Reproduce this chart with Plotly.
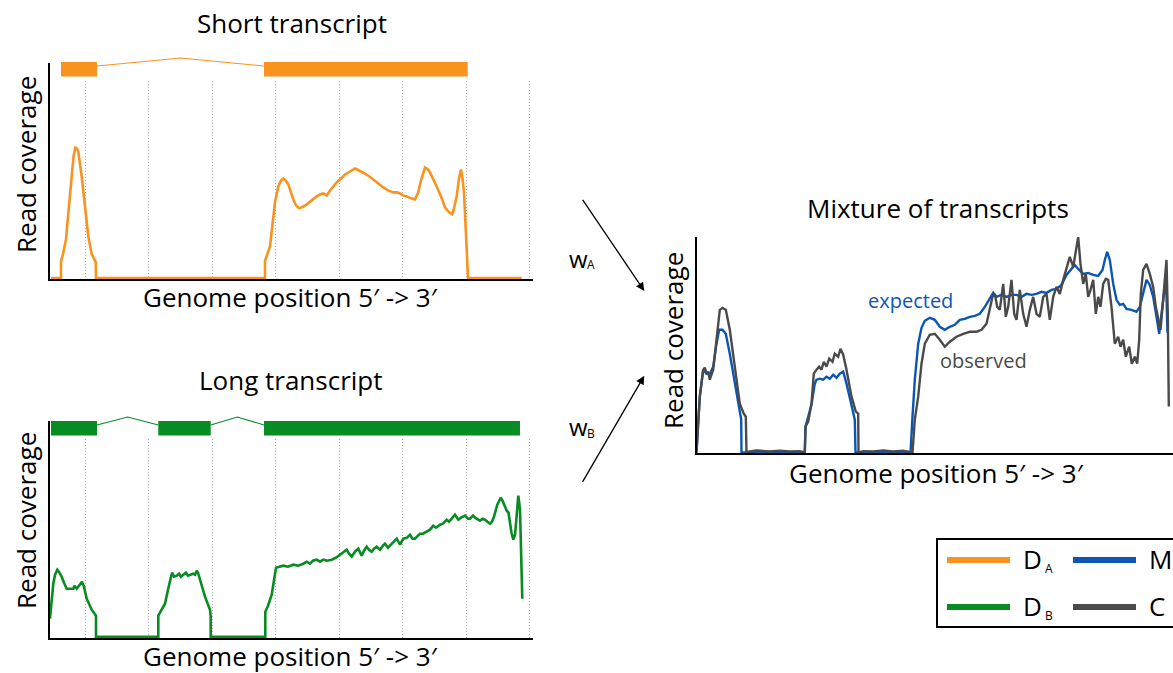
import plotly.graph_objects as go

W, H = 1173, 673
FONT = "Open Sans"

ORANGE = "#F7931E"
GREEN = "#078C21"
BLUE = "#0B56B5"
GREY = "#4A4A4A"

# ---------------- Short transcript (A) ----------------
short_exons = [(11, 47), (214, 417.7)]
short_pos = [1, 11, 11, 13, 16, 19, 21.7, 23.5, 25.3, 27, 28.3, 31.7, 35, 38.3, 41.7, 45.7, 46,
             215, 215, 220, 225, 228.3, 231, 233.3, 235.5, 238.3, 243.3, 246, 249.3, 252, 256.7,
             260, 263, 266.7, 270, 273.3, 276.7, 280, 283, 286.7, 290, 295, 300, 305, 309, 313.3,
             318, 323.3, 328, 333.3, 338, 343.3, 347, 350, 353, 356.7, 361, 365, 368.3, 371, 375,
             378, 380, 383, 386.7, 391, 395, 399, 402.3, 404, 406.7, 409, 411, 412.5, 414, 416.7,
             418, 471.7]
short_cov = [0, 0, 17, 24, 39, 70, 102, 122, 131, 130, 127, 102, 72, 42, 24, 16, 0,
             0, 17, 32, 76, 92, 98, 100, 98, 94, 79, 73, 70, 71, 74,
             77, 79, 82, 84, 85, 83, 88, 92, 96, 99, 104, 107, 110, 108, 106,
             103, 99, 95, 91, 88, 86, 86, 85, 83, 82, 80, 79, 86, 98, 111,
             109, 106, 100, 92, 82, 71, 66, 64, 70, 82, 100, 109, 100, 86, 29,
             0, 0]

# ---------------- Long transcript (B) ----------------
long_exons = [(1, 47), (108.3, 160.7), (214, 470)]
long_pos = [0, 3.3, 5, 7.3, 9.5, 11.7, 14, 16.7, 20, 23.3, 24.5, 26.7, 29, 30.7, 32, 34, 36.7,
            41.7, 46, 46,
            108.3, 108.3, 112, 115, 118, 120.7, 122, 124, 126.7, 129, 131, 133.3, 136, 138, 140,
            143, 145, 146.7, 148, 150, 155, 160, 160.7, 160.7,
            215.3, 215.3, 218, 221.7, 224, 226, 233.3, 238, 243.3, 248, 253.3, 256.7, 260, 263,
            266.7, 270, 273.3, 277, 281.7, 286, 290, 293, 296.7, 299, 301.7, 305, 308.3, 311.7,
            314, 316.7, 319, 321.7, 324, 326.7, 330, 333, 335, 338, 340, 343, 346.7, 350, 353.3,
            357, 360, 362.5, 365, 368, 370, 373, 376.7, 380, 383.3, 386, 390, 393, 396.7, 399,
            401.7, 405, 408.3, 411, 415, 418, 420, 423, 425, 428, 430, 432.5, 435, 437.5, 440,
            442, 444, 447.3, 450.7, 452.5, 454, 456.7, 458.5, 460, 461.5, 463.3, 465, 466, 468.3,
            470, 472.3]
long_cov = [18, 53, 62, 67, 64, 60, 54, 48, 48, 48, 51, 48, 51, 53, 55, 50, 38,
            27, 21, 0,
            0, 21, 27, 33, 47, 60, 64, 60, 61, 63, 60, 62, 64, 61, 62,
            63, 62, 66, 64, 57, 40, 27, 20, 0,
            0, 25, 31, 42, 55, 69, 71, 70, 72, 71, 73, 75, 73, 76,
            77, 75, 77, 76, 77, 79, 82, 84, 87, 83, 80, 85, 88, 81,
            86, 90, 87, 85, 88, 90, 87, 91, 93, 89, 91, 95, 98, 92, 98,
            99, 102, 98, 98, 101, 103, 103, 105, 107, 111, 109, 112, 113, 117, 115,
            118, 122, 117, 119, 121, 118, 118, 121, 119, 117, 116, 118, 117, 115, 113,
            115, 120, 132, 139, 136, 132, 126, 124, 112, 104, 97, 102, 113, 141,
            127, 38]

# ---------------- Mixture: expected (M) and observed (C) ----------------
exp_pos = [0, 3.3, 6.7, 10, 13.3, 16.7, 20, 22.7, 26, 29.3, 33.3, 38.3, 42.7, 44.7, 45,
           108.3, 109, 115, 118.3, 120, 123.3, 126.7, 130, 133.3, 136.7, 140, 143.3, 146.7,
           150, 155, 158.3, 159,
           214, 216, 218.3, 221.7, 225, 228.3, 233.3, 238.3, 243.3, 248.3, 253.3, 258.3, 263.3,
           268.3, 273.3, 278.3, 283.3, 288.3, 293.3, 296.7, 300, 305, 310, 315, 320, 325, 330,
           335, 340, 345, 350, 355, 360, 365, 370, 375, 378.3, 381.7, 386.7, 391.7, 396.7,
           401.7, 406, 408.3, 410.7, 413.3, 416.7, 420, 423.3, 426.7, 430, 435, 440, 443.3,
           446.7, 450, 453.3, 456.7, 460, 462.7, 465, 467.3, 469.5, 471]
exp_cov = [0, 56, 83, 79, 79, 86, 109, 123, 123, 119, 99, 69, 43, 33, 0,
           0, 26, 48, 69, 73, 74, 73, 76, 74, 78, 75, 79, 81,
           69, 49, 33, 0,
           0, 36, 73, 109, 125, 132, 135, 133, 126, 123, 126, 128, 133,
           134, 136, 137, 139, 146, 154, 160, 156, 158, 156, 158, 158, 156, 159,
           158, 159, 161, 160, 163, 164, 168, 178, 184, 188, 184, 179, 180, 178,
           177, 183, 193, 201, 193, 169, 153, 148, 149, 144, 143, 141, 146,
           159, 173, 168, 156, 136, 119, 139, 156, 175, 120]

obs_pos = [0, 3.3, 6.7, 8.3, 10, 11.7, 13.3, 15, 16.7, 20, 23.3, 26, 29.3, 33.3, 38.3, 43.3,
           47.3, 49.3, 50, 53.3, 60, 66.7, 73.3, 83.3, 93.3, 103.3, 108.3,
           109, 111.7, 115, 117.3, 120, 122.7, 125, 127.3, 130, 132.7, 136, 138.3, 141.7, 144,
           146.7, 150, 155, 159.3, 161.7, 162, 166.7, 176.7, 186.7, 196.7, 206.7, 215.3,
           216, 218.3, 221.7, 225, 228.3, 233.3, 238.3, 243.3, 248.3, 253.3, 260, 266.7, 273.3,
           280, 285, 290, 293.3, 296, 298.3, 300.7, 303.3, 306.7, 309.3, 311.7, 315, 317.7,
           320, 323.3, 326.7, 330, 333.3, 336.7, 340, 343.3, 346.7, 350, 353.3, 356.7, 360,
           363.3, 366.7, 370, 373.3, 376.7, 379.3, 381.7, 384, 386.7, 389.3, 391.7, 394,
           396.7, 399.3, 401.7, 404, 406.7, 409.3, 411.7, 415, 418.3, 421.7, 424, 426.7, 429.3,
           432.7, 435.3, 438.3, 440.7, 442.7, 444.3, 446.7, 450, 453.3, 456.7, 459.3, 462, 464,
           466, 468, 470, 471.3, 472.3]
obs_cov = [0, 56, 83, 85, 79, 81, 73, 79, 83, 113, 143, 145, 143, 123, 83, 49,
           39, 36, 0, 1, 2, 1.4, 1, 1.7, 1, 1.4, 0,
           26, 31, 49, 79, 83, 86, 83, 91, 86, 94, 91, 99, 96, 104,
           98, 83, 56, 41, 39, 0, 1.4, 1, 2, 1, 1.7, 0,
           0, 33, 56, 89, 109, 118, 119, 113, 106, 111, 116, 119, 121,
           121, 123, 129, 143, 156, 159, 146, 143, 169, 136, 146, 173, 139,
           133, 163, 139, 126, 143, 156, 139, 136, 156, 159, 133, 156, 166,
           159, 173, 186, 196, 186, 203, 216, 189, 169, 179, 156, 163,
           173, 139, 156, 146, 169, 174, 173, 146, 109, 116, 106, 113, 96,
           106, 89, 96, 89, 113, 159, 183, 189, 179, 166, 146, 133, 123,
           146, 173, 193, 139, 46]


def px(x):
    return x / W


def py(y):
    return 1 - y / H


fig = go.Figure()

# coverage curves
fig.add_trace(go.Scatter(x=short_pos, y=short_cov, mode="lines", name="D<sub>A</sub>",
                         line=dict(color=ORANGE, width=2.6), xaxis="x", yaxis="y"))
fig.add_trace(go.Scatter(x=long_pos, y=long_cov, mode="lines", name="D<sub>B</sub>",
                         line=dict(color=GREEN, width=2.6), xaxis="x3", yaxis="y3"))
fig.add_trace(go.Scatter(x=exp_pos, y=exp_cov, mode="lines", name="M",
                         line=dict(color=BLUE, width=2.4), xaxis="x5", yaxis="y5"))
fig.add_trace(go.Scatter(x=obs_pos, y=obs_cov, mode="lines", name="C",
                         line=dict(color=GREY, width=2.4), xaxis="x5", yaxis="y5"))

shapes = []


def gene_model(exons, color, xa, ya):
    # exon boxes joined by angled intron connectors
    for x0, x1 in exons:
        shapes.append(dict(type="rect", xref=xa, yref=ya, x0=x0, x1=x1, y0=-1, y1=1,
                           fillcolor=color, line=dict(width=0), layer="above"))
    for (a0, a1), (b0, b1) in zip(exons[:-1], exons[1:]):
        fig.add_trace(go.Scatter(x=[a1, (a1 + b0) / 2, b0], y=[0.45, 1.55, 0.45],
                                 mode="lines", line=dict(color=color, width=1.1),
                                 xaxis=xa, yaxis=ya, hoverinfo="skip"))


gene_model(short_exons, ORANGE, "x2", "y2")
gene_model(long_exons, GREEN, "x4", "y4")

cov_x = dict(showline=True, linecolor="black", linewidth=2, showticklabels=False, ticks="",
             showgrid=True, gridcolor="#a8a8a8", griddash="1px,2px", gridwidth=1, tick0=35,
             dtick=63.5, zeroline=False, range=[0, 483], domain=[px(50), px(533)])
cov_y = dict(showline=True, linecolor="black", linewidth=2, showticklabels=False, ticks="",
             showgrid=False, zeroline=False)
model_x = dict(visible=False, range=[0, 483], domain=[px(50), px(533)])
model_y = dict(visible=False)

fig.update_layout(
    width=W, height=H, margin=dict(l=0, r=0, t=0, b=0),
    paper_bgcolor="white", plot_bgcolor="white", showlegend=False,
    font=dict(family=FONT, color="black"),
    xaxis=dict(cov_x, anchor="y"),
    yaxis=dict(cov_y, anchor="x", range=[-1, 216], domain=[py(279), py(63)]),
    xaxis2=dict(model_x, anchor="y2"),
    yaxis2=dict(model_y, anchor="x2", range=[-1.47, 1.96], domain=[py(80), py(55)]),
    xaxis3=dict(cov_x, anchor="y3"),
    yaxis3=dict(cov_y, anchor="x3", range=[-1.3, 215.7], domain=[py(638), py(421)]),
    xaxis4=dict(model_x, anchor="y4"),
    yaxis4=dict(model_y, anchor="x4", range=[-1.47, 2.1], domain=[py(439), py(413)]),
    xaxis5=dict(showline=True, linecolor="black", linewidth=2, showticklabels=False,
                ticks="", showgrid=False, zeroline=False, range=[0, 476.5],
                domain=[px(696.5), 1], anchor="y5"),
    yaxis5=dict(cov_y, anchor="x5", range=[-0.5, 216], domain=[py(453), py(237)]),
)

ann = []


def text(x, y, s, size=26, color="black", angle=0, xanchor="center"):
    ann.append(dict(x=px(x), y=py(y), xref="paper", yref="paper", text=s, showarrow=False,
                    font=dict(size=size, color=color, family=FONT), textangle=angle,
                    xanchor=xanchor, yanchor="middle"))


text(292, 23, "Short transcript")
text(290, 297, "Genome position 5′ -> 3′")
text(26, 165, "Read coverage", angle=-90)
text(291, 380, "Long transcript")
text(290, 656, "Genome position 5′ -> 3′")
text(26, 521, "Read coverage", angle=-90)
text(938, 208, "Mixture of transcripts")
text(936, 473, "Genome position 5′ -> 3′")
text(673, 341, "Read coverage", angle=-90)

# curve labels in the mixture panel
ann.append(dict(x=214.3, y=152, xref="x5", yref="y5", text="expected", showarrow=False,
                font=dict(size=20, color=BLUE, family=FONT)))
ann.append(dict(x=286.5, y=92, xref="x5", yref="y5", text="observed", showarrow=False,
                font=dict(size=20, color=GREY, family=FONT)))

# mixing weights
text(567, 258, "w", size=24, xanchor="left")
text(585, 265, "A", size=12, xanchor="left")
text(567, 426, "w", size=24, xanchor="left")
text(585, 433, "B", size=12, xanchor="left")
for (hx, hy, tx, ty) in [(644.3, 291, 581.7, 198.3), (644.3, 375.7, 581.7, 483.3)]:
    ann.append(dict(x=px(hx), y=py(hy), xref="paper", yref="paper", ax=tx - hx, ay=ty - hy,
                    axref="pixel", ayref="pixel", text="", showarrow=True, arrowhead=2,
                    arrowsize=1.3, arrowwidth=1.3, arrowcolor="black"))

# legend
shapes.append(dict(type="rect", xref="paper", yref="paper", x0=px(937), x1=px(1185),
                   y0=py(627), y1=py(539), line=dict(color="black", width=2),
                   fillcolor="rgba(0,0,0,0)"))
legend_items = [("D", "A", ORANGE, 947, 560), ("D", "B", GREEN, 947, 607),
                ("M", "", BLUE, 1073, 560), ("C", "", GREY, 1073, 607)]
for main, sub, color, lx, ly in legend_items:
    shapes.append(dict(type="line", xref="paper", yref="paper", x0=px(lx), x1=px(lx + 63),
                       y0=py(ly), y1=py(ly), line=dict(color=color, width=6)))
    text(lx + 74, ly - 1, main, size=26, xanchor="left")
    if sub:
        text(lx + 96, ly + 8, sub, size=12, xanchor="left")

fig.update_layout(shapes=shapes, annotations=ann)
fig.write_html("out.html")
